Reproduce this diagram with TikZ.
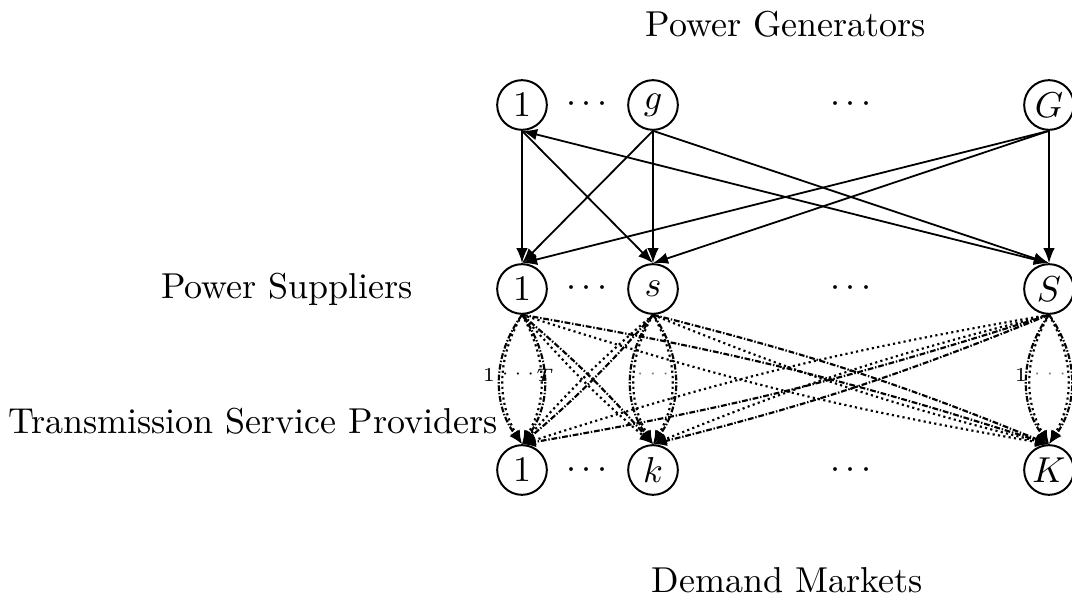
\documentclass[tikz,border=0pt]{standalone}
\usetikzlibrary{arrows.meta}
\begin{document}
\begin{tikzpicture}[x=0.2778pt,y=-0.2778pt,
  nd/.style={circle,draw,line width=0.55pt,minimum size=13.8pt,inner sep=0pt,font=\normalsize},
  pa/.style={line width=0.5pt,-{Latex[length=4.2pt,width=3.2pt]}},
  ta/.style={line width=0.6pt,dash pattern=on 1.6pt off 0.5pt on 0.4pt off 0.5pt,-{Latex[length=3.8pt,width=3pt]}},
  tb/.style={line width=0.6pt,dash pattern=on 0.6pt off 0.9pt,-{Latex[length=3.8pt,width=3pt]}},
  tiny/.style={font=\fontsize{5.5}{6}\selectfont,inner sep=0.5pt},
  dt/.style={inner sep=0pt}]
\useasboundingbox (0,0) rectangle (1072,602);
\begin{scope}
\clip (0,0) rectangle (1072,602);
% labels
\node (lpg) at (786,24) {Power Generators};
\node (lps) at (287,289) {Power Suppliers};
\node (lts) at (253,421) {Transmission Service Providers};
\node (ldm) at (787,580) {Demand Markets};
% nodes
\node[nd] (G1) at (522,105) {$1$};
\node[nd] (Gg) at (653,105) {$g$};
\node[nd] (GG) at (1049,105) {$G$};
\node[nd] (S1) at (522,289) {$1$};
\node[nd] (Ss) at (653,289) {$s$};
\node[nd] (SS) at (1049,289) {$S$};
\node[nd] (D1) at (522,470) {$1$};
\node[nd] (Dk) at (653,470) {$k$};
\node[nd] (DK) at (1049,470) {$K$};
% dots
\node[dt] (d1) at (587,105) {$\cdots$};
\node[dt] (d2) at (851,105) {$\cdots$};
\node[dt] (d3) at (587,289) {$\cdots$};
\node[dt] (d4) at (851,289) {$\cdots$};
\node[dt] (d5) at (587,470) {$\cdots$};
\node[dt] (d6) at (851,470) {$\cdots$};
% generator -> supplier
\draw[pa] (G1.south) -- (S1.north);
\draw[pa] (G1.south) -- (Ss.north);
\draw[pa,{Latex[length=4.2pt,width=3.2pt]}-{Latex[length=4.2pt,width=3.2pt]}] (G1.south) -- (SS.north);
\draw[pa] (Gg.south) -- (S1.north);
\draw[pa] (Gg.south) -- (Ss.north);
\draw[pa] (Gg.south) -- (SS.north);
\draw[pa] (GG.south) -- (S1.north);
\draw[pa] (GG.south) -- (Ss.north);
\draw[pa] (GG.south) -- (SS.north);
% supplier -> demand (vertical pairs)
\foreach \a/\b in {S1/D1,Ss/Dk,SS/DK}{
  \draw[ta] (\a.south) to[bend left=36] (\b.north);
  \draw[tb] (\a.south) to[bend left=30] (\b.north);
  \draw[ta] (\a.south) to[bend right=36] (\b.north);
  \draw[tb] (\a.south) to[bend right=30] (\b.north);
}
% supplier -> demand (diagonal pairs)
\foreach \a/\b in {S1/Dk,S1/DK,Ss/D1,Ss/DK,SS/D1,SS/Dk}{
  \draw[ta] (\a.south) to[bend left=4] (\b.north);
  \draw[tb] (\a.south) to[bend right=4] (\b.north);
}
% transmission labels
\node[tiny] (t1) at (489,375) {1};
\node[tiny] (t2) at (518,374) {$\cdots$};
\node[tiny] (t3) at (545,375) {$T$};
\node[tiny,text=gray] (t4) at (653,374) {$\cdots$};
\node[tiny] (t5) at (1021,375) {1};
\node[tiny,text=gray] (t6) at (1050,374) {$\cdots$};
\end{scope}
\end{tikzpicture}
\end{document}
